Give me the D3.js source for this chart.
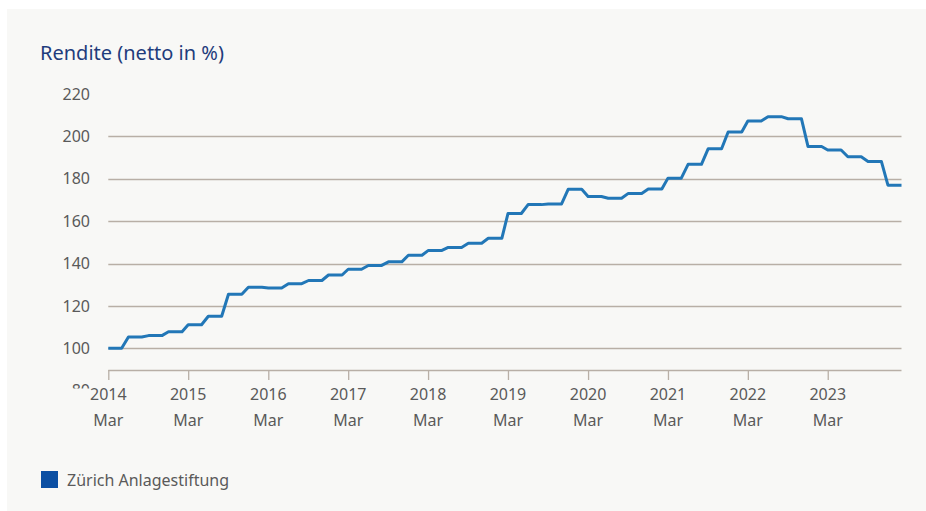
<!DOCTYPE html>
<html>
<head>
<meta charset="utf-8">
<script src="https://cdn.jsdelivr.net/npm/d3@7"></script>
<style>
  html, body { margin: 0; padding: 0; background: #ffffff; }
  svg { display: block; font-family: "Noto Sans", "DejaVu Sans", sans-serif; }
</style>
</head>
<body>
<svg id="chart" width="926" height="511"></svg>
<script>
// ---- data ----
var seriesName = "Zürich Anlagestiftung";
var startMonth = "2014-03";
// monthly values, Mar 2014 .. Feb 2024
var rendite = [
  100, 100, 100, 105.3, 105.3, 105.3, 106, 106, 106, 107.8,          // 2014 Mar-Dec
  107.8, 107.8, 111.1, 111.1, 111.1, 115.1, 115.1, 115.1, 125.5, 125.5, 125.5, 128.8, // 2015
  128.8, 128.8, 128.5, 128.5, 128.5, 130.5, 130.5, 130.5, 132, 132, 132, 134.6,       // 2016
  134.6, 134.6, 137.3, 137.3, 137.3, 139.1, 139.1, 139.1, 140.8, 140.8, 140.8, 143.9, // 2017
  143.9, 143.9, 146.1, 146.1, 146.1, 147.6, 147.6, 147.6, 149.6, 149.6, 149.6, 151.9, // 2018
  151.9, 151.9, 163.6, 163.6, 163.6, 167.8, 167.8, 167.8, 168.1, 168.1, 168.1, 175,   // 2019
  175, 175, 171.6, 171.6, 171.6, 170.8, 170.8, 170.8, 173.1, 173.1, 173.1, 175.2,     // 2020
  175.2, 175.2, 180.3, 180.3, 180.3, 186.8, 186.8, 186.8, 194.2, 194.2, 194.2, 202.1, // 2021
  202.1, 202.1, 207.3, 207.3, 207.3, 209.3, 209.3, 209.3, 208.3, 208.3, 208.3, 195.2, // 2022
  195.2, 195.2, 193.6, 193.6, 193.6, 190.4, 190.4, 190.4, 188.2, 188.2, 188.2, 177,   // 2023
  177, 177                                                                             // 2024 Jan-Feb
];
var yTicks = [80, 100, 120, 140, 160, 180, 200, 220];
var gridTicks = [100, 120, 140, 160, 180, 200];
var xTickYears = [2014, 2015, 2016, 2017, 2018, 2019, 2020, 2021, 2022, 2023];
var xTickMonth = "Mar";

var parseMonth = d3.timeParse("%Y-%m");
var first = parseMonth(startMonth);
var data = rendite.map(function(v, i) { return {date: d3.timeMonth.offset(first, i), value: v}; });

// ---- layout ----
var svg = d3.select("#chart");
var plotLeft = 108.3, plotRight = 901.5, plotTop = 94, plotBottom = 369.5;
var textColor = "#5a5a5a", gridColor = "#b8afa6";

svg.append("rect")
    .attr("x", 7).attr("y", 9)
    .attr("width", 919).attr("height", 502)
    .attr("fill", "#f8f8f6");

var x = d3.scaleTime()
    .domain([data[0].date, data[data.length - 1].date])
    .range([plotLeft, plotRight]);

var y = d3.scaleLinear()
    .domain([90, 220])
    .range([plotBottom, plotTop]);

// title
svg.append("text")
    .attr("x", 40).attr("y", 60)
    .attr("fill", "#1f3c7c")
    .attr("font-size", 20)
    .text("Rendite (netto in %)");

// gridlines
svg.append("g")
    .selectAll("line")
    .data(gridTicks)
    .enter().append("line")
    .attr("x1", plotLeft).attr("x2", plotRight)
    .attr("y1", function(d) { return Math.round(y(d)) + 0.5; })
    .attr("y2", function(d) { return Math.round(y(d)) + 0.5; })
    .attr("stroke", gridColor)
    .attr("stroke-width", 1.3);

// y labels (the 80 one is partly hidden under the x labels)
svg.append("clipPath").attr("id", "yclip")
    .append("rect").attr("x", 0).attr("y", 0).attr("width", 100).attr("height", 388.5);

svg.append("g")
    .attr("clip-path", "url(#yclip)")
    .selectAll("text")
    .data(yTicks)
    .enter().append("text")
    .attr("x", 90)
    .attr("y", function(d) { return y(d); })
    .attr("dy", "0.35em")
    .attr("text-anchor", "end")
    .attr("fill", textColor)
    .attr("font-size", 16)
    .text(function(d) { return d; });

// x axis
var xAxis = svg.append("g")
    .attr("transform", "translate(0," + Math.round(plotBottom) + ")")
    .call(d3.axisBottom(x)
        .tickValues(xTickYears.map(function(yr) { return new Date(yr, 2, 1); }))
        .tickSize(10)
        .tickFormat(""));
xAxis.select(".domain").attr("stroke", gridColor).attr("stroke-width", 1.3)
    .attr("d", "M" + plotLeft + ",0.5H" + plotRight);
xAxis.selectAll(".tick line").attr("stroke", gridColor).attr("stroke-width", 1.3);

var xl = svg.append("g").selectAll("g")
    .data(xTickYears)
    .enter().append("g")
    .attr("transform", function(d) { return "translate(" + x(new Date(d, 2, 1)) + ",0)"; });
xl.append("text")
    .attr("y", 394).attr("dy", "0.35em")
    .attr("text-anchor", "middle")
    .attr("fill", textColor).attr("font-size", 16)
    .text(function(d) { return d; });
xl.append("text")
    .attr("y", 420).attr("dy", "0.35em")
    .attr("text-anchor", "middle")
    .attr("fill", textColor).attr("font-size", 16)
    .text(xTickMonth);

// line
var line = d3.line()
    .x(function(d) { return x(d.date); })
    .y(function(d) { return y(d.value); });

svg.append("path")
    .datum(data)
    .attr("d", line)
    .attr("fill", "none")
    .attr("stroke", "#2277b7")
    .attr("stroke-width", 3)
    .attr("stroke-linejoin", "round");

// legend
svg.append("rect")
    .attr("x", 41).attr("y", 471)
    .attr("width", 17).attr("height", 17)
    .attr("fill", "#0b4fa3");
svg.append("text")
    .attr("x", 67).attr("y", 480).attr("dy", "0.35em")
    .attr("fill", textColor).attr("font-size", 16)
    .text(seriesName);
</script>
</body>
</html>
